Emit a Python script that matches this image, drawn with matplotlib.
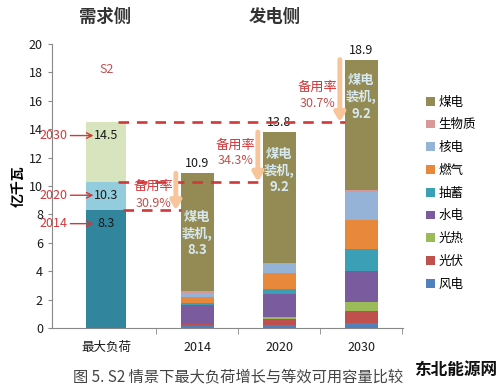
import matplotlib
matplotlib.use("Agg")
import matplotlib.pyplot as plt
import numpy as np

plt.rcParams['font.family'] = ['Noto Sans CJK SC', 'DejaVu Sans']

# ---- data ----
categories = ['最大负荷', '2014', '2020', '2030']
demand_years = ['2014', '2020', '2030']
demand_levels = [8.3, 10.3, 14.5]

sources = ['风电', '光伏', '光热', '水电', '抽蓄', '燃气', '核电', '生物质', '煤电']
# 2014, 2020, 2030
capacity = {
    '风电':   [0.15, 0.20, 0.35],
    '光伏':   [0.15, 0.45, 0.85],
    '光热':   [0.00, 0.10, 0.65],
    '水电':   [1.30, 1.65, 2.20],
    '抽蓄':   [0.15, 0.35, 1.50],
    '燃气':   [0.45, 1.10, 2.05],
    '核电':   [0.25, 0.65, 2.00],
    '生物质': [0.15, 0.10, 0.10],
    '煤电':   [8.30, 9.20, 9.20],
}
totals = [10.9, 13.8, 18.9]
reserve = ['30.9%', '34.3%', '30.7%']

# ---- styles / layout ----
colors = {
    '风电': '#4f81bd', '光伏': '#c0504d', '光热': '#9bbb59', '水电': '#7a5c9e',
    '抽蓄': '#3b9fb5', '燃气': '#e8883a', '核电': '#95b3d7', '生物质': '#d99795',
    '煤电': '#948a54',
}
demand_colors = ['#31859c', '#93cddd', '#d7e4bd']
red = '#d0383a'
txt_red = '#c0504d'

x_demand = -0.11
x_gen = np.array([1, 2, 3])
w_demand = 0.49
w_gen = 0.40
arrow_dx = -0.26
label_dx = -0.53
label_y = [(9.95, 8.78), (12.89, 11.76), (16.95, 15.82)]
coal_text_y = [6.65, 11.08, 16.28]
line_start = [0.2, 0.15, 0.15]

fig = plt.figure(figsize=(5.0, 3.92), dpi=100)
ax = fig.add_axes([0.104, 0.163, 0.702, 0.725])

# demand side bar
prev = 0
for lvl, c in zip(demand_levels, demand_colors):
    ax.bar(x_demand, lvl - prev, w_demand, bottom=prev, color=c, zorder=2)
    ax.text(x_demand, lvl - 0.95, f'{lvl}', ha='center', va='center',
            fontsize=9, color='#1a1a1a', zorder=5)
    prev = lvl

# generation side stacked bars
bottom = np.zeros(3)
for s in sources:
    vals = np.array(capacity[s])
    ax.bar(x_gen, vals, w_gen, bottom=bottom, color=colors[s], label=s, zorder=2)
    bottom += vals

for i, x in enumerate(x_gen):
    ax.text(x, totals[i] + 0.2, f'{totals[i]}', ha='center', va='bottom',
            fontsize=9, color='#1a1a1a')
    coal = capacity['煤电'][i]
    ax.text(x, coal_text_y[i], f'煤电\n装机,\n{coal}', ha='center', va='center',
            fontsize=9.5, fontweight='bold', color='#d6e8f0', linespacing=1.25,
            zorder=5)
    # reserve arrows
    ax.annotate('', xy=(x + arrow_dx, demand_levels[i]), xytext=(x + arrow_dx, totals[i]),
                arrowprops=dict(arrowstyle='-|>,head_width=0.3,head_length=0.5',
                                color='#f8c59a', lw=3.5, shrinkA=0, shrinkB=0),
                zorder=4)
    ax.text(x + label_dx, label_y[i][0], '备用率', ha='center', va='center',
            fontsize=9.5, color=red)
    ax.text(x + label_dx, label_y[i][1], reserve[i], ha='center', va='center',
            fontsize=9, color=txt_red)

# dashed demand lines
for i, lvl in enumerate(demand_levels):
    ax.plot([x_demand + line_start[i], x_gen[i] - w_gen / 2], [lvl, lvl],
            ls=(0, (4, 3)), color=red, lw=1.9, zorder=3)

# year arrows pointing to demand levels
for yr, lvl in zip(demand_years, demand_levels):
    yy = lvl - 0.95
    ax.annotate('', xy=(x_demand - 0.12, yy), xytext=(x_demand - 0.47, yy),
                arrowprops=dict(arrowstyle='->', color=red, lw=1.0))
    ax.text(x_demand - 0.47, yy, yr, ha='right', va='center', fontsize=9,
            color=red)

ax.text(x_demand, 18.2, 'S2', ha='center', va='center', fontsize=9, color=txt_red)

# axes styling
ax.set_xlim(-0.77, 3.51)
ax.set_ylim(0, 20)
ax.set_yticks(np.arange(0, 21, 2))
ax.set_xticks([x_demand] + list(x_gen))
ax.set_xticklabels(categories, fontsize=9, color='#1a1a1a')
ax.tick_params(axis='x', length=0, pad=9)
ax.set_xticks([0.5, 1.5, 2.5, 3.5], minor=True)
ax.tick_params(axis='x', which='minor', length=4, color='#888888')
ax.tick_params(axis='y', labelsize=9, length=3, color='#888888', labelcolor='#1a1a1a')
for sp in ['top', 'right']:
    ax.spines[sp].set_visible(False)
for sp in ['left', 'bottom']:
    ax.spines[sp].set_color('#888888')

ax.set_ylabel('亿千瓦', fontsize=10, fontweight='bold', labelpad=2)

# legend (top to bottom: 煤电 ... 风电)
handles, labels = ax.get_legend_handles_labels()
fig.legend(handles[::-1], labels[::-1], loc='upper left', bbox_to_anchor=(0.83, 0.785),
           frameon=False, fontsize=9, handlelength=0.7, handleheight=0.7,
           handletextpad=0.3, labelspacing=0.78)

# titles
fig.text(105 / 500, 1 - 17 / 392, '需求侧', ha='center', va='center',
         fontsize=12.5, fontweight='bold', color='#333333')
fig.text(275 / 500, 1 - 17 / 392, '发电侧', ha='center', va='center',
         fontsize=12.5, fontweight='bold', color='#333333')

# caption and watermark
fig.text(238 / 500, 1 - 377 / 392, '图 5. S2 情景下最大负荷增长与等效可用容量比较',
         ha='center', va='center', fontsize=11, color='#444444')
fig.text(456 / 500, 1 - 370 / 392, '东北能源网', ha='center', va='center',
         fontsize=12, fontweight='bold', color='#111111')

fig.savefig('out.png', dpi=100, facecolor='white')
